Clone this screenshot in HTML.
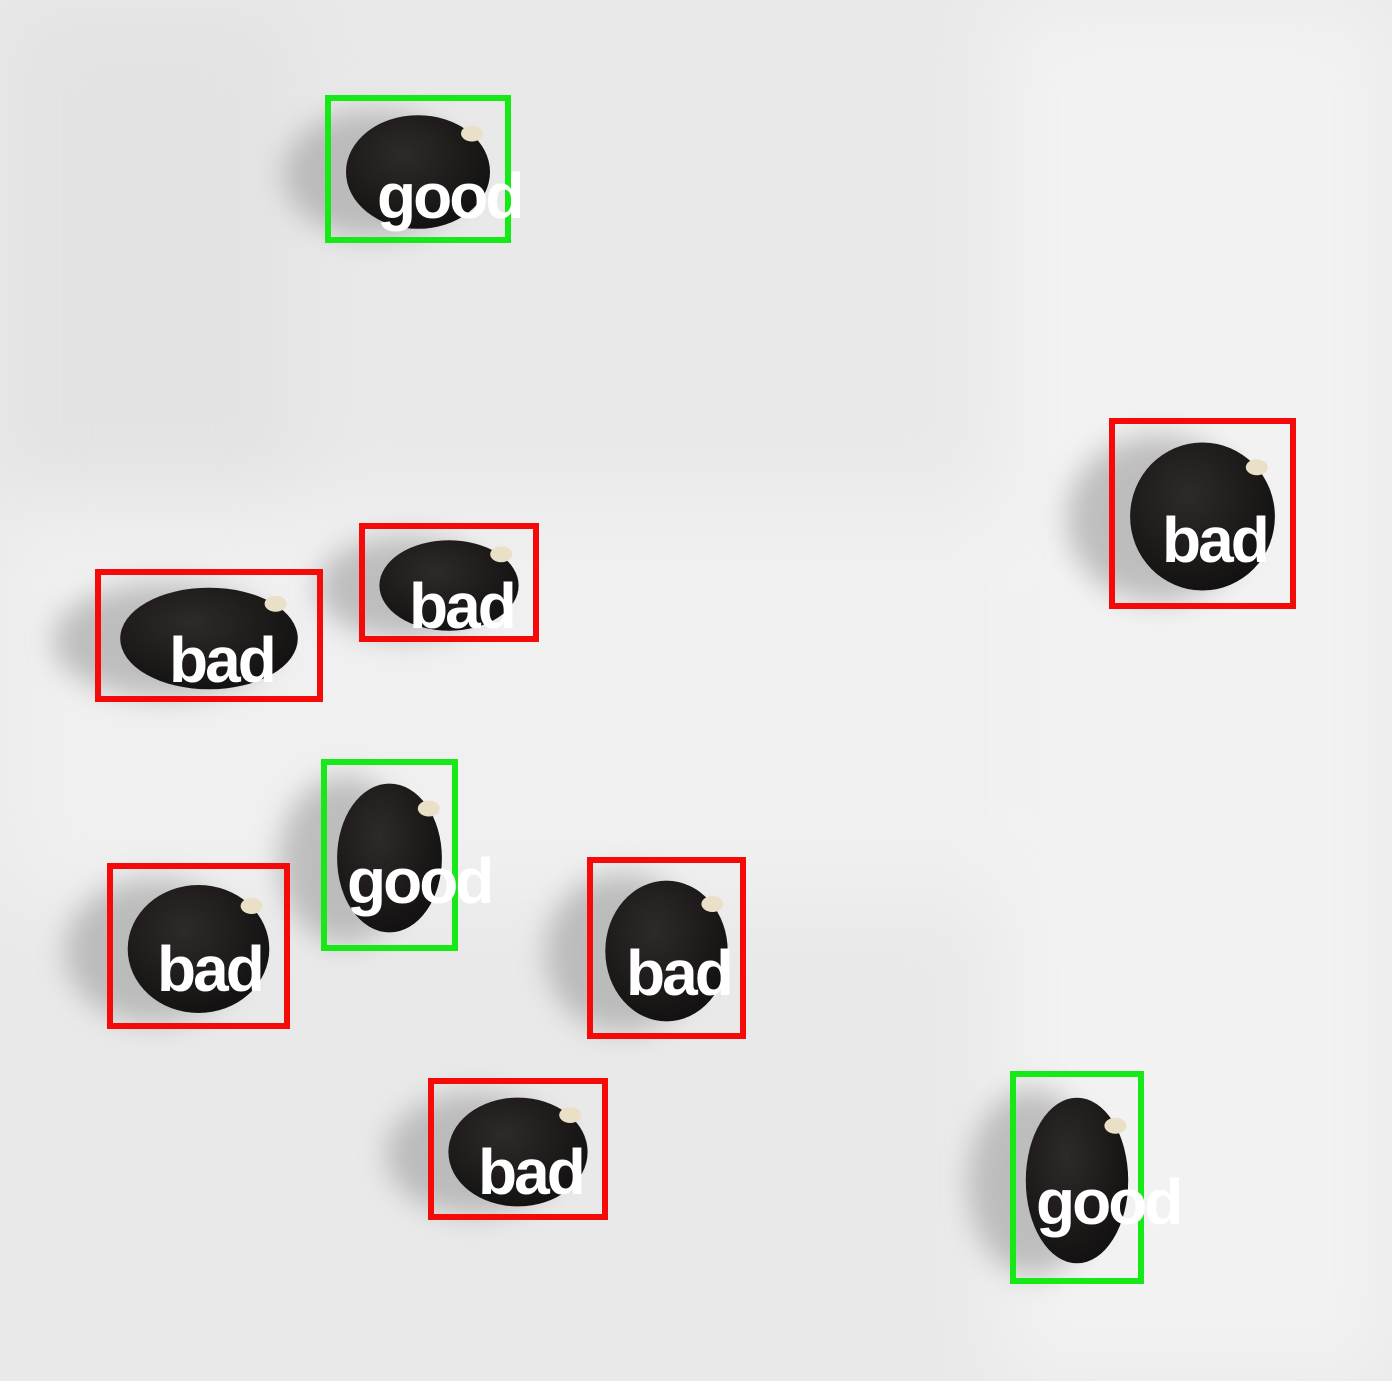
<!DOCTYPE html>
<html><head><meta charset="utf-8">
<style>
html,body{margin:0;padding:0;width:1392px;height:1381px;overflow:hidden;background:#ececec}
svg{display:block}
text{font-family:"Liberation Sans",sans-serif;font-weight:bold;fill:#fff}
</style></head>
<body>
<svg id="scene" width="1392" height="1381" viewBox="0 0 1392 1381">
<defs>
<filter id="blur" x="-50%" y="-50%" width="200%" height="200%"><feGaussianBlur stdDeviation="14"/></filter>
<filter id="bgblur"><feGaussianBlur stdDeviation="40"/></filter>
<radialGradient id="seedg" cx="40%" cy="35%" r="70%"><stop offset="0" stop-color="#2e2a28"/><stop offset="1" stop-color="#121010"/></radialGradient>
</defs>
<rect width="1392" height="1381" fill="#e9e9e9"/>
<g filter="url(#bgblur)">
<rect x="1000" y="0" width="392" height="1381" fill="#f2f2f2"/>
<rect x="0" y="500" width="1000" height="400" fill="#f0f0f0"/>
<rect x="0" y="0" width="300" height="500" fill="#e3e3e3"/>
</g>
<g id="marks"></g>
</svg>
<script>
const labels = ["good","bad","bad","bad","good","bad","bad","bad","good"];
const boxX1 = [328,1112,362,98,324,110,590,431,1013];
const boxY1 = [98,421,526,572,762,866,860,1081,1074];
const boxX2 = [508,1293,536,320,455,287,743,605,1141];
const boxY2 = [240,606,639,699,948,1026,1036,1217,1281];
const labelX = [377,1162,409,169,347,157,626,478,1036];
const labelY = [218,562,628,682,903,991,995,1194,1224];

const NS = "http://www.w3.org/2000/svg";
const g = document.getElementById('marks');
function mk(tag, attrs){const e=document.createElementNS(NS,tag);for(const k in attrs)e.setAttribute(k,attrs[k]);return e;}

for (let i=0;i<labels.length;i++){
  const x1=boxX1[i], y1=boxY1[i], x2=boxX2[i], y2=boxY2[i];
  const cx=(x1+x2)/2, cy=(y1+y2)/2, w=x2-x1, h=y2-y1;
  const sh = mk('ellipse',{cx:cx-45,cy:cy+5,rx:w*0.5,ry:h*0.45,fill:'#a8a8a8',opacity:'0.7',filter:'url(#blur)'});
  
  
  g.appendChild(sh);
  const seed = mk('ellipse',{cx:cx,cy:cy+3,rx:w*0.4,ry:h*0.4,fill:'url(#seedg)'});
  
  
  g.appendChild(seed);
  const sprout = mk('ellipse',{cx:x1+w*0.8,cy:y1+h*0.25,rx:11,ry:8,fill:'#eae0c8'});
  
  
  g.appendChild(sprout);
  const color = labels[i]==='good' ? '#17e817' : '#f50a0a';
  const r = mk('rect',{x:x1,y:y1,width:w,height:h,fill:'none',stroke:color,'stroke-width':6});
  
  
  g.appendChild(r);
}
for (let i=0;i<labels.length;i++){
  const t = mk('text',{x:labelX[i],y:labelY[i],'font-size':64,'letter-spacing':'-3'});
  t.textContent = labels[i];
  
  
  g.appendChild(t);
}
</script>
</body></html>
